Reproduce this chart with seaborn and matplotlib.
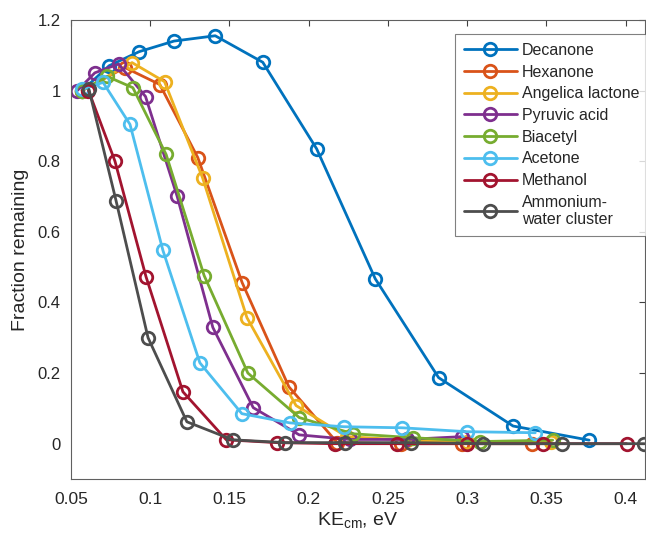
import numpy as np
import pandas as pd
import matplotlib
matplotlib.use('Agg')
import matplotlib.pyplot as plt
from matplotlib.ticker import FuncFormatter
import seaborn as sns

# --- data (KE_cm in eV, fraction remaining) ---
names = ['Decanone', 'Hexanone', 'Angelica lactone', 'Pyruvic acid', 'Biacetyl',
         'Acetone', 'Methanol', 'Ammonium-\nwater cluster']
colors = ['#0072BD', '#D95319', '#EDB120', '#7E2F8E', '#77AC30', '#4DBEEE', '#A2142F', '#4D4D4D']

decanone_x = [0.057, 0.074, 0.093, 0.115, 0.141, 0.171, 0.205, 0.242, 0.282, 0.329, 0.377]
decanone_y = [1.0, 1.07, 1.11, 1.14, 1.155, 1.08, 0.835, 0.467, 0.187, 0.05, 0.01]

hexanone_x = [0.057, 0.084, 0.106, 0.130, 0.158, 0.1875, 0.218, 0.258, 0.297, 0.341]
hexanone_y = [1.0, 1.065, 1.017, 0.81, 0.456, 0.161, 0.003, 0.0, 0.0, 0.0]

angelica_x = [0.057, 0.0885, 0.109, 0.133, 0.161, 0.192, 0.224, 0.262, 0.300, 0.353]
angelica_y = [1.0, 1.079, 1.025, 0.753, 0.357, 0.108, 0.02, 0.01, 0.005, 0.005]

pyruvic_x = [0.054, 0.065, 0.080, 0.097, 0.117, 0.1395, 0.165, 0.194, 0.226, 0.262, 0.297]
pyruvic_y = [1.0, 1.05, 1.075, 0.983, 0.70, 0.329, 0.102, 0.025, 0.012, 0.012, 0.02]

biacetyl_x = [0.057, 0.0727, 0.089, 0.110, 0.134, 0.1616, 0.194, 0.228, 0.2656, 0.308, 0.354]
biacetyl_y = [1.0, 1.04, 1.008, 0.819, 0.476, 0.20, 0.074, 0.028, 0.017, 0.006, 0.01]

acetone_x = [0.0569, 0.0702, 0.0872, 0.108, 0.1313, 0.1578, 0.188, 0.222, 0.259, 0.2997, 0.343]
acetone_y = [1.003, 1.023, 0.904, 0.547, 0.229, 0.085, 0.059, 0.048, 0.045, 0.034, 0.031]

methanol_x = [0.061, 0.0777, 0.0973, 0.1206, 0.148, 0.18, 0.2165, 0.256, 0.300, 0.348, 0.4006]
methanol_y = [1.0, 0.80, 0.473, 0.147, 0.011, 0.003, 0.0, 0.0, 0.0, 0.0, 0.0]

ammonium_x = [0.0613, 0.0784, 0.0986, 0.1231, 0.152, 0.185, 0.2228, 0.2644, 0.3098, 0.3596, 0.4119]
ammonium_y = [1.003, 0.688, 0.30, 0.062, 0.011, 0.003, 0.003, 0.003, 0.0, 0.0, 0.0]

all_x = [decanone_x, hexanone_x, angelica_x, pyruvic_x, biacetyl_x, acetone_x, methanol_x, ammonium_x]
all_y = [decanone_y, hexanone_y, angelica_y, pyruvic_y, biacetyl_y, acetone_y, methanol_y, ammonium_y]

sns.set_style('white')
plt.rcParams['font.family'] = ['Liberation Sans', 'DejaVu Sans']
plt.rcParams['mathtext.fontset'] = 'custom'
plt.rcParams['mathtext.rm'] = 'Liberation Sans'

fig = plt.figure(figsize=(6.46, 5.37), dpi=100)
ax = fig.add_axes([0.110, 0.108, 0.889, 0.855])

for name, c, xs, ys in zip(names, colors, all_x, all_y):
    sns.lineplot(x=xs, y=ys, ax=ax, color=c, label=name, marker='o', markersize=9,
                 mfc='none', mec=c, mew=2, linewidth=2, sort=False, estimator=None)

ax.set_xlim(0.05, 0.4125)
ax.set_ylim(-0.1, 1.2)
ax.set_xticks(np.arange(0.05, 0.401, 0.05))
ax.set_yticks(np.arange(0, 1.21, 0.2))
fmt = FuncFormatter(lambda v, p: '%g' % round(v, 3))
ax.xaxis.set_major_formatter(fmt)
ax.yaxis.set_major_formatter(fmt)
ax.tick_params(direction='in', top=True, right=True, length=4, width=0.8,
               colors='#404040', labelsize=12, labelcolor='#262626')
ax.tick_params(axis='x', pad=9, labelsize=12.5)
ax.tick_params(axis='y', pad=7.5)
for s in ax.spines.values():
    s.set_color('#606060')
    s.set_linewidth(0.8)

ax.set_xlabel(r'KE$_\mathregular{cm}$, eV', fontsize=14, color='#262626', labelpad=3)
ax.set_ylabel('Fraction remaining', fontsize=14, color='#262626', labelpad=6)

leg = ax.legend(loc='upper left', bbox_to_anchor=(0.669, 0.969), fontsize=11.5,
                frameon=True, fancybox=False, edgecolor='#606060', handlelength=3.3,
                labelspacing=0.42, borderpad=0.55, handletextpad=0.3, borderaxespad=0)
leg.get_frame().set_linewidth(0.8)

fig.savefig('out.png', dpi=100)
